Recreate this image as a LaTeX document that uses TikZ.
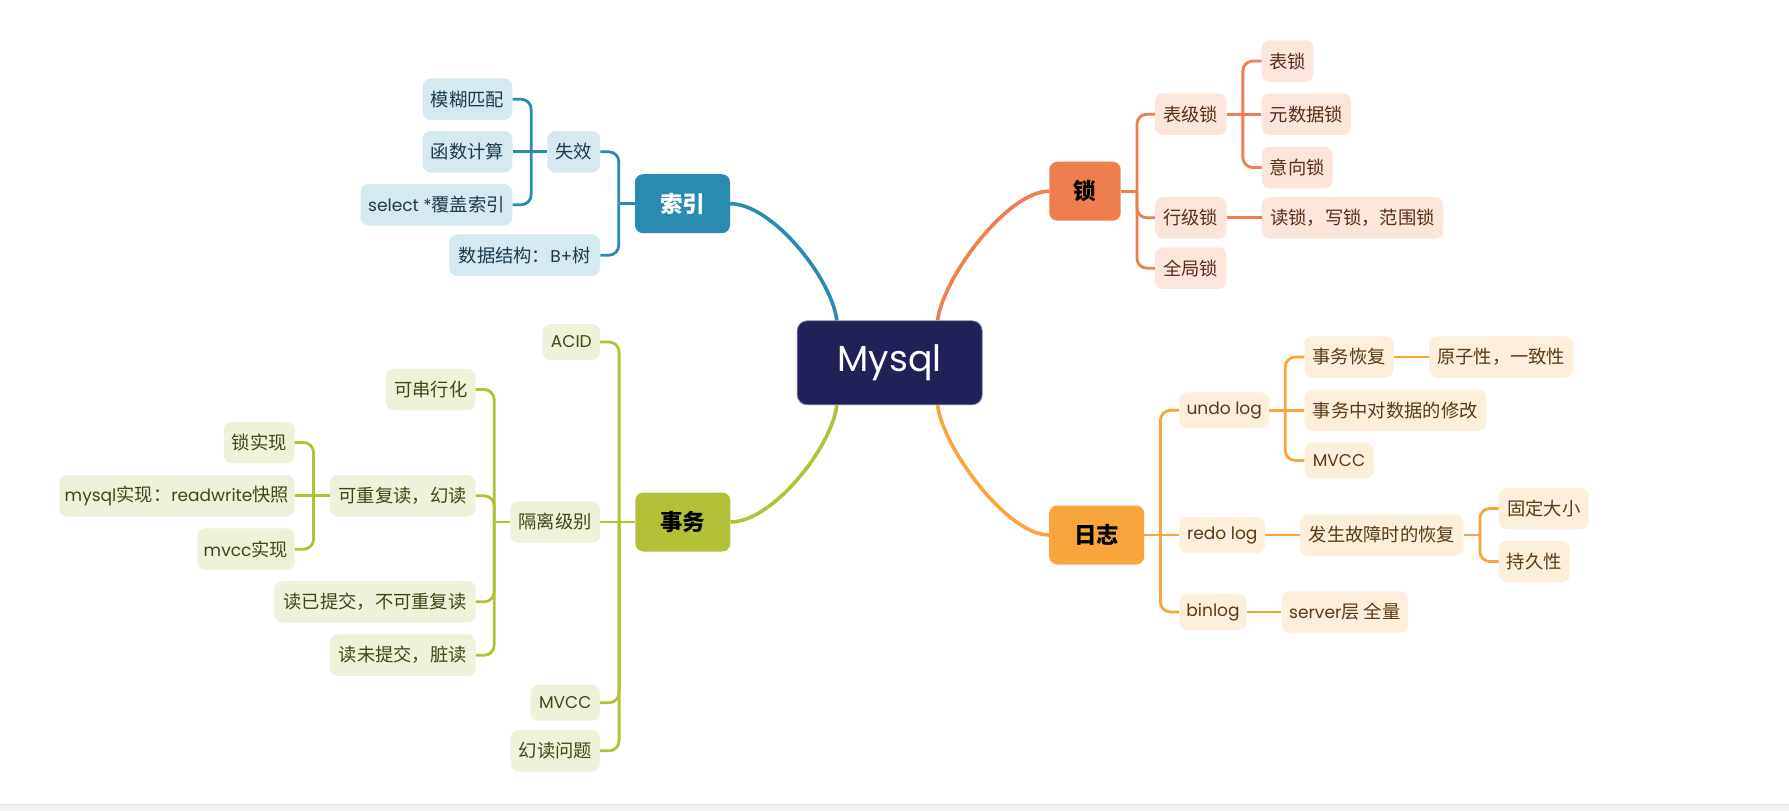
\documentclass[tikz,border=0pt]{standalone}
\usepackage{fontspec}
\setmainfont{Noto Sans CJK SC}
\newfontfamily\lat[Scale=0.93]{Poppins}
\definecolor{mysqlc}{HTML}{1F2158}
\definecolor{syc}{HTML}{2A8BB0}
\definecolor{syl}{HTML}{D6E8F0}
\definecolor{syt}{HTML}{1B3A4B}
\definecolor{sc}{HTML}{EF7E4E}
\definecolor{sl}{HTML}{FCE5DA}
\definecolor{st}{HTML}{5B2D1A}
\definecolor{rc}{HTML}{F8A63B}
\definecolor{rl}{HTML}{FEEFDC}
\definecolor{rt}{HTML}{5B3A12}
\definecolor{wc}{HTML}{B3C137}
\definecolor{wl}{HTML}{EFF2DA}
\definecolor{wt}{HTML}{414618}
\newcommand\mybrL[3]{\draw[br,#1] ([xshift=-16pt]#2.west) |- (#3.east);}
\newcommand\mybrR[3]{\draw[br,#1] ([xshift=16pt]#2.east) |- (#3.west);}
\newcommand\mystubL[2]{\draw[br,#1] (#2.west) -- ([xshift=-16pt]#2.west);}
\newcommand\mystubR[2]{\draw[br,#1] (#2.east) -- ([xshift=16pt]#2.east);}
\begin{document}
\begin{tikzpicture}[x=1pt,y=-1pt,
  leaf/.style={rounded corners=8pt, inner sep=0pt, minimum height=41.5pt, font=\fontsize{18.3}{21}\selectfont},
  lleaf/.style={leaf, minimum height=36pt},
  syleaf/.style={leaf, fill=syl, text=syt},
  sleaf/.style={leaf, fill=sl, text=st},
  rleaf/.style={leaf, fill=rl, text=rt},
  wleaf/.style={leaf, fill=wl, text=wt},
  mainn/.style={rounded corners=8pt, inner sep=0pt, minimum width=95pt, minimum height=59pt, font=\fontsize{22.5}{26}\selectfont\bfseries},
  mysqln/.style={rounded corners=10pt, inner sep=0pt, minimum width=185pt, minimum height=84pt, fill=mysqlc, draw=mysqlc!55!white, line width=0.8pt, text=white, font=\lat\fontsize{39}{42}\selectfont},
  br/.style={line width=2.8pt, rounded corners=10pt},
  curve/.style={line width=3.6pt},
]
\useasboundingbox (0,0) rectangle (1789,811);
\fill[white] (0,0) rectangle (1789,811);
\fill[black!5] (0,804) rectangle (1789,811);
\draw[black!11, line width=0.8pt] (0,804) -- (1789,804);

% central
\node[mysqln] (m) at (889.7,362.8) {Mysql};
\node[mainn, fill=syc, text=white] (sy) at (682.5,203.7) {索引};
\node[mainn, fill=sc, text=black, minimum width=71.4pt] (s) at (1085,191.2) {锁};
\node[mainn, fill=rc, text=black] (rz) at (1096.7,535) {日志};
\node[mainn, fill=wc, text=black] (sw) at (682.8,522) {事务};

% 索引 branch
\node[syleaf, minimum width=52.7pt] (sx) at (573.7,151.8) {失效};
\node[syleaf, minimum width=89.6pt] (mh) at (467.5,99.2) {模糊匹配};
\node[syleaf, minimum width=89.6pt] (hs) at (467.5,151.8) {函数计算};
\node[syleaf, minimum width=151.6pt] (sel) at (436.5,204.8) {{\lat select *}覆盖索引};
\node[syleaf, minimum width=150.7pt] (sj) at (524.7,255.2) {数据结构：{\lat B+}树};

% 锁 branch
\node[sleaf, minimum width=71.7pt] (bj) at (1190.8,114.2) {表级锁};
\node[sleaf, minimum width=71.7pt] (hj) at (1190.8,217.8) {行级锁};
\node[sleaf, minimum width=71.7pt] (qj) at (1190.8,268.2) {全局锁};
\node[sleaf, minimum width=51.6pt] (bs) at (1287.5,61) {表锁};
\node[sleaf, minimum width=89.3pt] (ys) at (1306.3,114.2) {元数据锁};
\node[sleaf, minimum width=71pt] (yx) at (1297.2,167.5) {意向锁};
\node[sleaf, minimum width=181.6pt] (dx) at (1352.5,217.8) {读锁，写锁，范围锁};

% 日志 branch
\node[rleaf, lleaf, minimum width=89.7pt] (undo) at (1224.2,410.3) {\lat undo log};
\node[rleaf, lleaf, minimum width=85.7pt] (redo) at (1222.2,535) {\lat redo log};
\node[rleaf, lleaf, minimum width=67.4pt] (bin) at (1213,612) {\lat binlog};
\node[rleaf, minimum width=89pt] (sh) at (1349,357) {事务恢复};
\node[rleaf, minimum width=144.3pt] (yz) at (1501.2,357) {原子性，一致性};
\node[rleaf, minimum width=181.8pt] (xg) at (1395.3,410.3) {事务中对数据的修改};
\node[rleaf, lleaf, minimum width=69pt] (mvb) at (1339,460.5) {\lat MVCC};
\node[rleaf, minimum width=163.6pt] (fs) at (1381.9,535) {发生故障时的恢复};
\node[rleaf, minimum width=89.8pt] (gd) at (1543.8,508.5) {固定大小};
\node[rleaf, minimum width=70.9pt] (cj) at (1534.3,561.5) {持久性};
\node[rleaf, minimum width=126.5pt] (srv) at (1344.8,612) {{\lat server}层 全量};

% 事务 branch
\node[wleaf, lleaf, minimum width=57.3pt] (acid) at (571.3,342) {\lat ACID};
\node[wleaf, minimum width=89.7pt] (gl) at (555.2,522) {隔离级别};
\node[wleaf, lleaf, minimum width=69.3pt] (mva) at (565.3,702.7) {\lat MVCC};
\node[wleaf, minimum width=89.3pt] (hd) at (555.3,750.8) {幻读问题};
\node[wleaf, minimum width=89.5pt] (cx) at (430.7,389.5) {可串行化};
\node[wleaf, minimum width=145.7pt] (kc) at (402.6,495.8) {可重复读，幻读};
\node[wleaf, minimum width=201.4pt] (ry) at (375,601.8) {读已提交，不可重复读};
\node[wleaf, minimum width=145.7pt] (rw) at (402.8,655.2) {读未提交，脏读};
\node[wleaf, minimum width=70.6pt] (sxx) at (259.2,442.5) {锁实现};
\node[wleaf, minimum width=235.3pt] (mr) at (176.9,495.8) {{\lat mysql}实现：{\lat readwrite}快照};
\node[wleaf, minimum width=97.3pt] (mc) at (245.9,549.2) {{\lat mvcc}实现};

% main curves
\draw[curve, syc] ([xshift=40pt]m.north west) .. controls +(-5,-42) and +(42,0) .. (sy.east);
\draw[curve, sc] ([xshift=-45pt]m.north east) .. controls +(5,-42) and +(-42,0) .. (s.west);
\draw[curve, wc] ([xshift=40pt]m.south west) .. controls +(-5,42) and +(42,0) .. (sw.east);
\draw[curve, rc] ([xshift=-45pt]m.south east) .. controls +(5,42) and +(-42,0) .. (rz.west);

% 索引 connectors
\mystubL{syc}{sy}
\mybrL{syc}{sy}{sx}
\mybrL{syc}{sy}{sj}
\draw[br, syc] (sx.west) -- (hs.east);
\mybrL{syc}{sx}{mh}
\mybrL{syc}{sx}{sel}

% 锁 connectors
\mystubR{sc}{s}
\mybrR{sc}{s}{bj}
\mybrR{sc}{s}{hj}
\mybrR{sc}{s}{qj}
\draw[br, sc] (bj.east) -- (ys.west);
\mybrR{sc}{bj}{bs}
\mybrR{sc}{bj}{yx}
\draw[br, sc] (hj.east) -- (dx.west);

% 日志 connectors
\draw[br, rc] (rz.east) -- (redo.west);
\mybrR{rc}{rz}{undo}
\mybrR{rc}{rz}{bin}
\draw[br, rc] (undo.east) -- (xg.west);
\mybrR{rc}{undo}{sh}
\mybrR{rc}{undo}{mvb}
\draw[br, rc] (sh.east) -- (yz.west);
\draw[br, rc] (redo.east) -- (fs.west);
\mystubR{rc}{fs}
\mybrR{rc}{fs}{gd}
\mybrR{rc}{fs}{cj}
\draw[br, rc] (bin.east) -- (srv.west);

% 事务 connectors
\draw[br, wc] (sw.west) -- (gl.east);
\mybrL{wc}{sw}{acid}
\mybrL{wc}{sw}{mva}
\mybrL{wc}{sw}{hd}
\mystubL{wc}{gl}
\mybrL{wc}{gl}{cx}
\mybrL{wc}{gl}{kc}
\mybrL{wc}{gl}{ry}
\mybrL{wc}{gl}{rw}
\draw[br, wc] (kc.west) -- (mr.east);
\mybrL{wc}{kc}{sxx}
\mybrL{wc}{kc}{mc}
\end{tikzpicture}
\end{document}
